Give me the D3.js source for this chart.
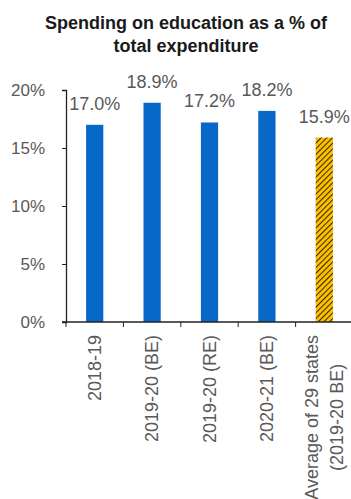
<!DOCTYPE html>
<html>
<head>
<meta charset="utf-8">
<script src="https://cdn.jsdelivr.net/npm/d3@7"></script>
<style>
  html, body { margin: 0; padding: 0; background: #fff; }
  svg { display: block; font-family: "Liberation Sans", Arial, sans-serif; }
</style>
</head>
<body>
<svg id="chart" width="351" height="499"></svg>
<script>
// Education spending as a share of total expenditure (%)
const categories = ["2018-19", "2019-20 (BE)", "2019-20 (RE)", "2020-21 (BE)", "Average of 29 states|(2019-20 BE)"];
const values = [17.0, 18.9, 17.2, 18.2, 15.9];
const highlight = [false, false, false, false, true];
const yTicks = [0, 5, 10, 15, 20];
const titleLines = ["Spending on education as a % of", "total expenditure"];

const svg = d3.select("#chart");
const textColor = "#595959";

// pattern for the states' average bar
const defs = svg.append("defs");
const pat = defs.append("pattern")
  .attr("id", "hatch")
  .attr("patternUnits", "userSpaceOnUse")
  .attr("width", 4).attr("height", 4)
  .attr("patternTransform", "rotate(45)");
pat.append("rect").attr("width", 4).attr("height", 4).attr("fill", "#FFC000");
pat.append("line").attr("x1", 0.5).attr("y1", 0).attr("x2", 0.5).attr("y2", 4)
  .attr("stroke", "#3a2a00").attr("stroke-width", 1.1);

// title
svg.append("text")
  .attr("x", 186).attr("y", 29)
  .attr("text-anchor", "middle")
  .attr("font-weight", "bold").attr("font-size", 18).attr("fill", "#1a1a1a")
  .selectAll("tspan").data(titleLines).join("tspan")
  .attr("x", 186).attr("dy", (d, i) => i === 0 ? 0 : 23)
  .text(d => d);

const x = d3.scaleBand().domain(categories).range([66, 353]).paddingInner(0.7).paddingOuter(0.35);
const y = d3.scaleLinear().domain([0, 20]).range([322, 90]);

// y axis
const yAxis = svg.append("g").attr("transform", "translate(66,0)")
  .call(d3.axisLeft(y).tickValues(yTicks).tickFormat(d => d + "%").tickSize(4).tickPadding(17));
yAxis.select(".domain").attr("stroke", "#222").attr("stroke-width", 1.3);
yAxis.selectAll(".tick line").attr("stroke", "#222");
yAxis.selectAll(".tick text").attr("font-size", 17).attr("fill", textColor)
  .attr("font-family", "Liberation Sans, Arial, sans-serif");

// bars
svg.append("g").selectAll("rect").data(values).join("rect")
  .attr("x", (d, i) => x(categories[i]))
  .attr("y", d => y(d))
  .attr("width", x.bandwidth())
  .attr("height", d => y(0) - y(d))
  .attr("fill", (d, i) => highlight[i] ? "url(#hatch)" : "#0868C8");

// value labels
svg.append("g").selectAll("text").data(values).join("text")
  .attr("x", (d, i) => x(categories[i]) + x.bandwidth() / 2)
  .attr("y", d => y(d) - 15)
  .attr("text-anchor", "middle")
  .attr("font-size", 18).attr("fill", textColor)
  .text(d => d.toFixed(1) + "%");

// x axis line with ticks on category boundaries
const step = x.step();
const x0 = x.range()[0];
svg.append("line").attr("x1", 62).attr("x2", 351).attr("y1", y(0)).attr("y2", y(0))
  .attr("stroke", "#222").attr("stroke-width", 1.3);
svg.append("g").selectAll("line").data(d3.range(categories.length)).join("line")
  .attr("x1", i => x0 + i * step).attr("x2", i => x0 + i * step)
  .attr("y1", y(0)).attr("y2", y(0) + 5)
  .attr("stroke", "#222");

// rotated category labels
const labelTop = 335;
categories.forEach((c, i) => {
  const lines = c.split("|");
  const cx = x(c) + x.bandwidth() / 2;
  const g = svg.append("g").attr("font-size", 18).attr("fill", textColor);
  if (lines.length === 1) {
    g.append("text")
      .attr("transform", `translate(${cx},${labelTop}) rotate(-90)`)
      .attr("text-anchor", "end").attr("dy", "0.35em")
      .text(lines[0]);
  } else {
    const gap = 25;
    const first = g.append("text")
      .attr("transform", `translate(${cx - gap / 2},${labelTop}) rotate(-90)`)
      .attr("text-anchor", "end").attr("dy", "0.35em")
      .text(lines[0]);
    const len = first.node().getComputedTextLength();
    g.append("text")
      .attr("transform", `translate(${cx + gap / 2},${labelTop + len / 2}) rotate(-90)`)
      .attr("text-anchor", "middle").attr("dy", "0.35em")
      .text(lines[1]);
  }
});
</script>
</body>
</html>
